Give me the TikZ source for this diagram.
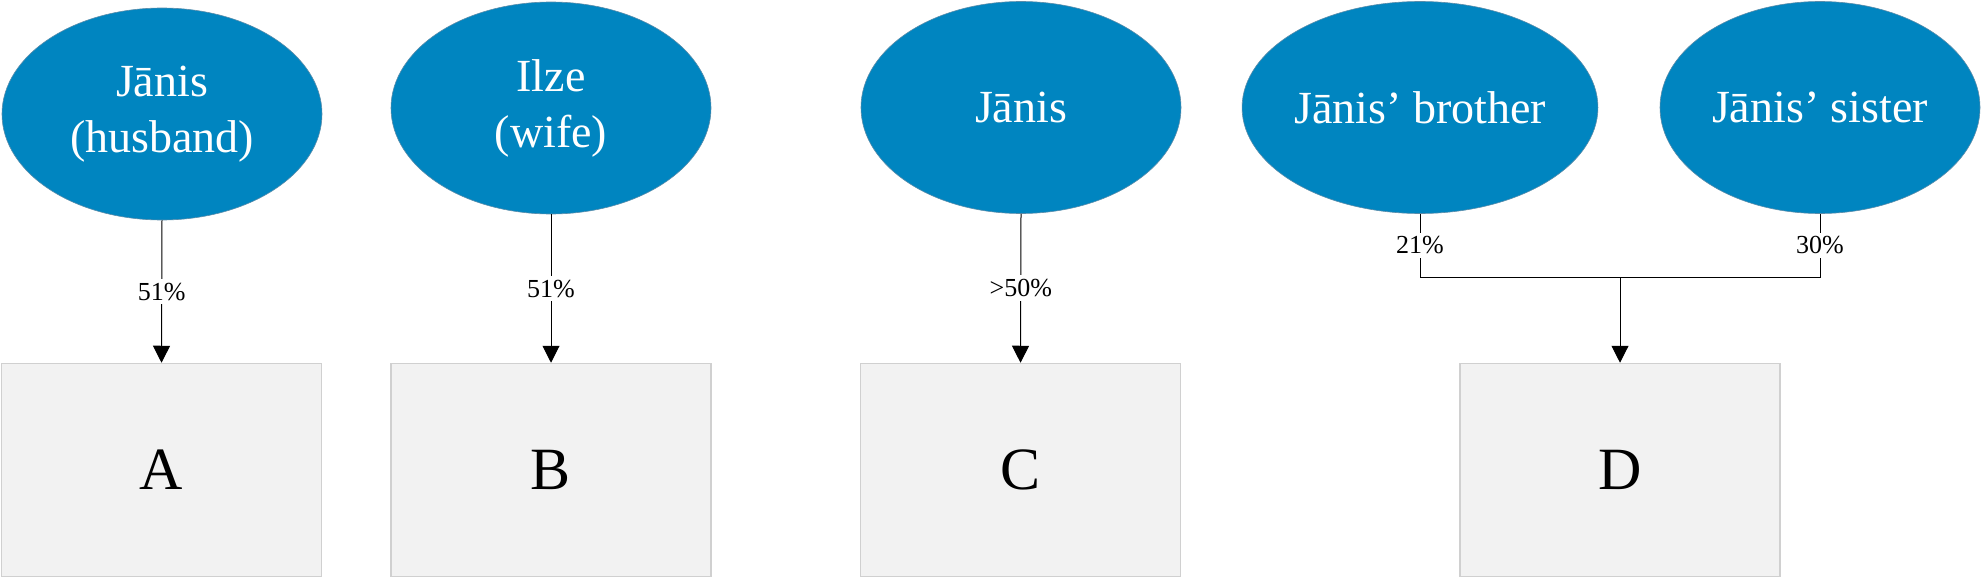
\documentclass[tikz,border=0pt]{standalone}
\usepackage{fontspec}
\setmainfont{Liberation Serif}
\usetikzlibrary{shapes.geometric,arrows.meta}
\definecolor{ellblue}{RGB}{0,133,192}
\definecolor{ellline}{RGB}{90,140,170}
\definecolor{boxfill}{RGB}{242,242,242}
\definecolor{boxline}{RGB}{208,208,208}
\begin{document}
\begin{tikzpicture}[x=1pt,y=-1pt,
 person/.style={ellipse,fill=ellblue,draw=ellline,line width=0.6pt,minimum width=320pt,minimum height=212pt,inner sep=0pt,text=white,align=center,font=\fontsize{46}{56}\selectfont},
 company/.style={rectangle,fill=boxfill,draw=boxline,line width=1.5pt,minimum width=320pt,minimum height=213pt,inner sep=0pt,font=\fontsize{60}{70}\selectfont},
 link/.style={line width=1pt},
 arr/.style={link,-{Triangle[width=17pt,length=17pt]}},
 pct/.style={fill=white,inner sep=4pt,font=\fontsize{26}{30}\selectfont}]
\useasboundingbox (0,0) rectangle (1981,578);
% owners
\node[person] (ja) at (162,114) {Jānis\\(husband)};
\node[person] (il) at (551,108) {Ilze\\(wife)};
\node[person] (jc) at (1021,107.5) {Jānis};
\node[person] (bro) at (1420,107.5) {Jānis’ brother};
\node[person] (sis) at (1820,107.5) {Jānis’ sister};
% companies
\node[company] (A) at (161.5,470) {A};
\node[company] (B) at (551,470) {B};
\node[company] (C) at (1020.5,470) {C};
\node[company] (D) at (1620,470) {D};
% connectors
\draw[arr] (ja.south) -- node[pct]{51\%} (A.north);
\draw[arr] (il.south) -- node[pct]{51\%} (B.north);
\draw[arr] (jc.south) -- node[pct]{>50\%} (C.north);
\coordinate (j) at (1620,277);
\draw[link] (bro.south) -- node[pct]{21\%} (bro.south |- j) -- (sis.south |- j) -- node[pct]{30\%} (sis.south);
\draw[arr] (j) -- (D.north);
\end{tikzpicture}
\end{document}
